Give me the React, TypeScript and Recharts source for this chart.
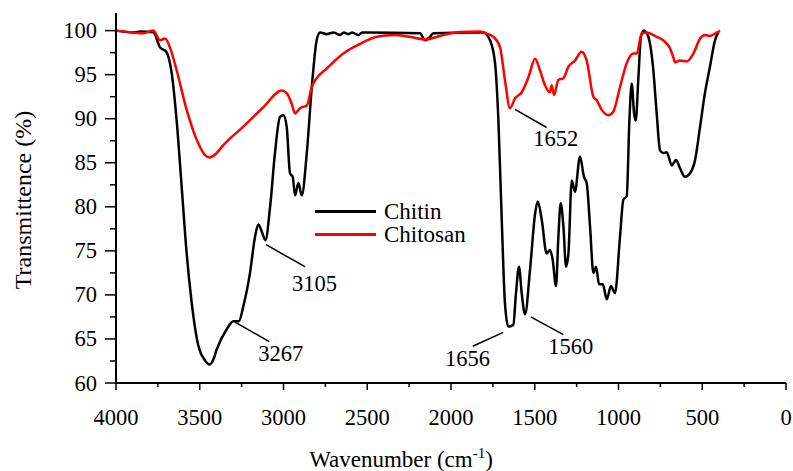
import {
  Legend,
  Line,
  LineChart,
  ReferenceDot,
  ReferenceLine,
  XAxis,
  YAxis,
} from "recharts";

const FONT = "Liberation Serif, Times New Roman, Times, DejaVu Serif, serif";

// wavenumber (cm-1) / transmittance (%)
const chitinWn = [
  4000, 3900, 3850, 3777, 3737, 3700, 3667, 3638, 3608, 3578, 3548, 3508, 3470,
  3440, 3420, 3399, 3339, 3299, 3267, 3240, 3200, 3170, 3150, 3130, 3108, 3080,
  3051, 3021, 3001, 2981, 2961, 2945, 2931, 2911, 2891, 2861, 2831, 2802, 2782,
  2742, 2700, 2662, 2640, 2613, 2590, 2553, 2530, 2503, 2185, 2155, 2130, 2105,
  1847, 1807, 1767, 1737, 1717, 1697, 1678, 1658, 1628, 1612, 1594, 1578, 1558,
  1528, 1498, 1482, 1458, 1429, 1409, 1393, 1373, 1359, 1345, 1329, 1313, 1299,
  1279, 1260, 1230, 1206, 1190, 1170, 1150, 1134, 1116, 1094, 1070, 1045, 1021,
  991, 971, 951, 935, 921, 907, 897, 882, 866, 848, 822, 792, 772, 752, 733, 712,
  682, 657, 633, 603, 573, 543, 513, 484, 454, 424, 404,
];
const chitinT = [
  100, 99.8, 99.9, 99.8, 98.1, 97.6, 95.1, 89.8, 82.3, 74.7, 69.1, 64.2, 62.6,
  62.1, 62.6, 63.8, 66.1, 67.0, 67.0, 68.7, 72.5, 76.6, 78.0, 77.2, 76.2, 80.0,
  86.1, 90.2, 90.4, 89.1, 83.8, 83.4, 81.3, 82.7, 81.3, 86.1, 93.6, 98.9, 99.8,
  99.6, 99.8, 99.5, 99.8, 99.6, 99.8, 99.5, 99.8, 99.8, 99.7, 98.9, 99.2, 99.7,
  99.8, 99.8, 98.9, 96.3, 89.8, 78.5, 69.1, 66.4, 66.6, 70.2, 73.2, 70.2, 67.8,
  72.9, 79.2, 80.6, 78.5, 74.7, 75.1, 74.0, 71.0, 76.6, 80.4, 77.8, 73.2, 74.7,
  83.0, 81.7, 85.7, 83.4, 82.7, 77.8, 72.5, 73.2, 71.2, 71.2, 69.5, 71.0, 70.2,
  76.6, 80.8, 81.2, 89.8, 94.0, 90.6, 89.8, 94.4, 99.3, 100, 99.3, 95.5, 90.6,
  86.4, 86.1, 86.2, 84.7, 85.3, 84.4, 83.4, 83.8, 85.3, 89.1, 92.9, 95.9, 98.9,
  99.8,
];

const chitosanWn = [
  4000, 3900, 3837, 3777, 3737, 3707, 3678, 3638, 3578, 3518, 3470, 3439, 3400,
  3359, 3240, 3120, 3011, 2981, 2951, 2931, 2901, 2861, 2831, 2802, 2742, 2643,
  2543, 2444, 2344, 2245, 2155, 2046, 1946, 1827, 1787, 1747, 1707, 1678, 1648,
  1618, 1578, 1538, 1498, 1469, 1439, 1409, 1399, 1385, 1359, 1329, 1299, 1260,
  1220, 1190, 1150, 1130, 1100, 1061, 1031, 991, 951, 912, 891, 862, 832, 772,
  733, 693, 673, 663, 633, 593, 553, 513, 484, 454, 424, 394,
];
const chitosanT = [
  100, 99.8, 99.7, 100, 98.9, 99.1, 98.1, 95.5, 91.0, 87.6, 85.9, 85.6, 86.1,
  87.0, 89.1, 91.3, 93.2, 92.9, 91.7, 90.6, 91.2, 91.5, 93.6, 94.6, 95.7, 97.4,
  98.5, 99.3, 99.5, 99.3, 99.0, 99.5, 99.85, 99.9, 99.66, 99.3, 98.1, 94.4, 91.2,
  92.3, 93.0, 94.7, 96.8, 95.5, 93.8, 93.0, 93.8, 92.7, 94.4, 94.6, 95.9, 96.6,
  97.6, 96.6, 92.5, 92.1, 91.0, 90.4, 90.8, 93.6, 96.3, 97.4, 97.4, 99.66, 99.8,
  99.3, 98.9, 98.0, 97.0, 96.4, 96.6, 96.5, 97.4, 99.1, 99.5, 99.4, 99.66, 99.96,
];

const xTicks = [
  4000, 3750, 3500, 3250, 3000, 2750, 2500, 2250, 2000, 1750, 1500, 1250, 1000,
  750, 500, 250, 0,
];
const yTicks = [
  60, 62.5, 65, 67.5, 70, 72.5, 75, 77.5, 80, 82.5, 85, 87.5, 90, 92.5, 95, 97.5,
  100,
];

// peak labels: [label, text wn, text T, leader from wn, from T, to wn, to T]
const peaks: [string, number, number, number, number, number, number][] = [
  ["3267", 3016, 63.4, 3289, 66.9, 3085, 64.7],
  ["3105", 2815, 71.35, 3104, 75.7, 2872, 73.2],
  ["1652", 1374, 87.8, 1618, 91.05, 1429, 89.0],
  ["1656", 1901, 62.85, 1688, 65.75, 1870, 64.17],
  ["1560", 1285, 64.17, 1524, 67.5, 1329, 65.5],
];

const chitin = chitinWn.map((wn, i) => ({ wn, t: chitinT[i] }));
const chitosan = chitosanWn.map((wn, i) => ({ wn, t: chitosanT[i] }));

const XTick = (props: any) => {
  const { x, y, payload } = props;
  const major = payload.value % 500 === 0;
  return (
    <g>
      <line x1={x} x2={x} y1={y} y2={y + (major ? 7 : 4)} stroke="#000" strokeWidth={1.5} />
      {major && (
        <text x={x} y={y + 42} textAnchor="middle" fontSize={22.5} style={{ fontFamily: FONT }} fill="#000">
          {payload.value}
        </text>
      )}
    </g>
  );
};

const YTick = (props: any) => {
  const { x, y, payload } = props;
  const major = payload.value % 5 === 0;
  return (
    <g>
      <line x1={x - (major ? 11 : 6)} x2={x} y1={y} y2={y} stroke="#000" strokeWidth={1.5} />
      {major && (
        <text x={x - 19} y={y + 7.5} textAnchor="end" fontSize={22.5} style={{ fontFamily: FONT }} fill="#000">
          {payload.value}
        </text>
      )}
    </g>
  );
};

const LegendBox = (props: any) => {
  const { payload } = props;
  return (
    <div style={{ fontFamily: FONT, fontSize: 23, lineHeight: "23px" }}>
      {(payload || []).map((p: any) => (
        <div key={p.value} style={{ display: "flex", alignItems: "center", height: 23.3 }}>
          <span style={{ display: "inline-block", width: 61, height: 3, background: p.color, marginRight: 8 }} />
          <span>{p.value}</span>
        </div>
      ))}
    </div>
  );
};

export default function App() {
  return (
    <div style={{ position: "absolute", left: 8, top: 8, fontFamily: FONT }}>
      <LineChart width={785} height={463} margin={{ top: 5, right: 7, bottom: 0, left: 0 }}>
        <XAxis
          type="number"
          dataKey="wn"
          domain={[0, 4000]}
          reversed
          ticks={xTicks}
          interval={0}
          tickSize={0}
          tickMargin={0}
          tick={(p: any) => <XTick {...p} />}
          axisLine={{ stroke: "#000", strokeWidth: 2 }}
          height={88}
          label={(p: any) => {
            const vb = p.viewBox;
            return (
              <text
                x={vb.x + vb.width / 2 - 50}
                y={vb.y + 84}
                textAnchor="middle"
                fontSize={23}
                style={{ fontFamily: FONT }}
                fill="#000"
              >
                Wavenumber (cm
                <tspan fontSize={15} dy={-9}>-1</tspan>
                <tspan dy={9}>)</tspan>
              </text>
            );
          }}
        />
        <YAxis
          type="number"
          domain={[60, 102]}
          ticks={yTicks}
          interval={0}
          tickSize={0}
          tickMargin={0}
          tick={(p: any) => <YTick {...p} />}
          axisLine={{ stroke: "#000", strokeWidth: 2 }}
          width={108}
          label={(p: any) => {
            const vb = p.viewBox;
            const cx = 15;
            const cy = vb.y + vb.height / 2 + 2;
            return (
              <text
                x={cx}
                y={cy}
                transform={`rotate(-90, ${cx}, ${cy})`}
                textAnchor="middle"
                dominantBaseline="central"
                fontSize={24}
                style={{ fontFamily: FONT }}
                fill="#000"
              >
                Transmittence (%)
              </text>
            );
          }}
        />
        <Legend
          layout="horizontal"
          verticalAlign="middle"
          align="center"
          content={(p: any) => <LegendBox {...p} />}
          wrapperStyle={{ left: 307, top: 192, width: "auto" }}
        />
        <Line
          name="Chitin"
          data={chitin}
          dataKey="t"
          type="monotone"
          stroke="#000"
          strokeWidth={2.5}
          dot={false}
          isAnimationActive={false}
        />
        <Line
          name="Chitosan"
          data={chitosan}
          dataKey="t"
          type="monotone"
          stroke="#ff0000"
          strokeWidth={2.5}
          dot={false}
          isAnimationActive={false}
        />
        {peaks.map(([label, tx, ty, x1, y1, x2, y2]) => (
          <ReferenceLine
            key={`l${label}`}
            segment={[
              { x: x1, y: y1 },
              { x: x2, y: y2 },
            ]}
            stroke="#000"
            strokeWidth={1.5}
          />
        ))}
        {peaks.map(([label, tx, ty]) => (
          <ReferenceDot
            key={`t${label}`}
            x={tx}
            y={ty}
            r={0}
            stroke="none"
            fill="none"
            label={{ value: label, position: "center", fontSize: 22.5, style: { fontFamily: FONT }, fill: "#000" }}
          />
        ))}
      </LineChart>
    </div>
  );
}
